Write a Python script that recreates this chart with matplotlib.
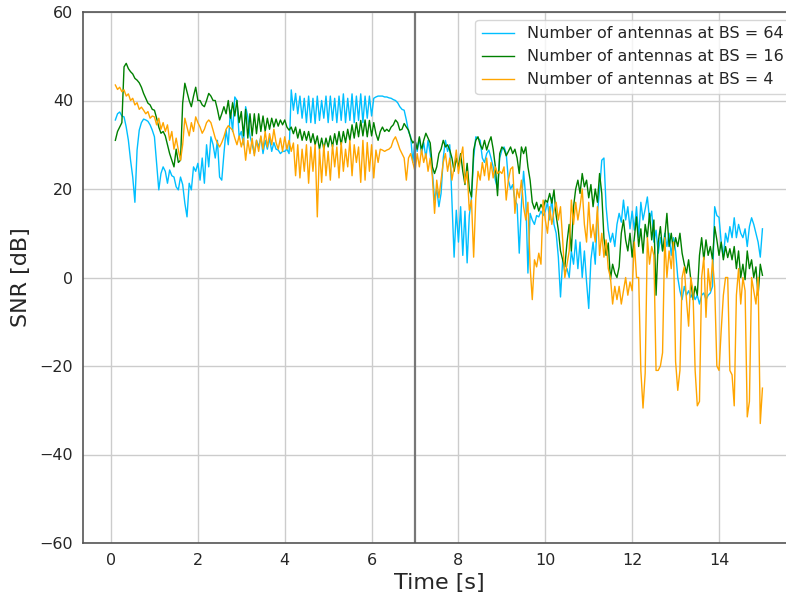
import numpy as np
import matplotlib
matplotlib.use("Agg")
import matplotlib.pyplot as plt

# time grid, 0.05 s steps
time = np.round(np.arange(0.1, 15.0001, 0.05), 2)

snr_64 = [
    35.6, 37, 37.4, 36.5, 36.3, 34, 31, 26.5, 22.7, 17, 28.8, 33.3, 35, 35.8, 35.6, 35.3, 34.5, 33.3,
    31.8, 25.8, 19.8, 23.5, 25, 24, 21.3, 24.3, 23, 22.7, 20.5, 19.8, 22.7, 21, 16.8, 13.7, 21.3, 19.8, 25, 24,
    25.8, 22, 27, 21.3, 30, 25, 31.8, 30, 27, 31, 22.7, 22, 28, 33.3, 30, 37.8, 33, 40.8, 40, 31.8,
    33, 30, 38.6, 36.3, 32, 30, 28, 31, 29.5, 31.8, 28, 31, 29, 31.5, 28.5, 30.5, 29, 28.8, 28, 28.5,
    28.5, 29, 28, 42.4, 37.8, 41.6, 37, 41, 36, 40.5, 35, 41, 35, 40.5, 34.8, 41, 35.5, 40, 36, 41,
    35, 41, 35.5, 40.5, 35, 41, 35.5, 41.5, 35, 40.5, 35.5, 41.5, 35, 41, 35.5, 41.5, 35, 41, 36, 41,
    36.5, 40.5, 40.8, 41, 41, 41, 40.8, 40.8, 40.6, 40.5, 40.2, 40, 39.5, 38.6, 38, 37.8, 35.6, 33, 31.8, 26,
    31, 28.5, 31.5, 28, 30.5, 27, 31, 28, 24, 17.5, 20, 16, 19, 27, 31, 28.5, 30, 17.5, 4.6, 15.2,
    8, 16, 5, 15, 3.3, 14, 18, 27, 31.8, 31.5, 31, 27, 26, 28, 28.8, 27, 25, 22, 20, 27,
    28.8, 29.5, 28, 22, 20, 21, 17.5, 16.5, 5.5, 16.5, 24, 18, 1, 14.5, 13, 12, 14, 13.7, 15, 14,
    15, 17, 13, 18, 12, 10, 4.6, -4.4, 4, 1, 2, 0, 6, 3, 8.5, 2, 8, 0, 6, -1,
    -7, 4, 8, 3, 14.5, 19.8, 26.5, 27, 16, 10.7, 8, 10, 7, 12, 14.5, 12.5, 17.5, 13, 16, 11,
    15, 10.7, 16, 9, 17, 13, 15.5, 18.2, 13, 15, 8, 10.7, 5.5, 9, 6, 10, 7, 10, 5, 9,
    6, 0, -3, -5, -2, -4, -3, -4.5, -3.5, -5, -4, -6, -4, -3.5, -5, -4, -3.5, -2, 16, 14,
    13.6, 8, 4.6, 10, 8, 11.5, 9, 13.5, 9, 12, 10, 9, 11, 7, 11.5, 13.5, 12, 10, 8, 4.6,
    11,
]

snr_16 = [
    31, 33, 34, 35, 47.6, 48.4, 47.2, 46.5, 46, 45, 44.6, 44, 43, 41.6, 40.5, 39.4, 39, 38,
    37.8, 36, 34, 32.6, 33, 32, 30, 28, 26.5, 25, 29, 26, 26.5, 39.4, 43.9, 42, 40, 38.6, 41, 43,
    40, 40, 39, 38.6, 40, 41.6, 41, 40, 40, 38, 35.6, 37, 38.6, 37, 40, 36, 39.5, 36.5, 40, 35,
    37.5, 32, 38, 31.5, 37, 32, 37, 32.5, 37, 33, 36.5, 33, 36, 33.5, 36, 34, 35.8, 34.2, 35.6, 34.5,
    35.6, 34, 33.3, 34, 32.5, 34, 31.5, 33.5, 31, 33, 31, 33, 30.5, 32.5, 30, 32, 29, 31.5, 29, 31.5,
    29.5, 32, 29.5, 32.5, 30, 33, 30, 33, 30.5, 33.5, 31, 34.5, 31.5, 35, 31.8, 35.5, 32, 35.6, 31.8, 35.5,
    32, 35, 32.5, 31, 33, 34, 33, 33.5, 33, 34, 34.5, 35.6, 35, 33.3, 33.5, 34.8, 34, 33.3, 31.5, 30.4,
    31, 29, 31.8, 28.8, 31, 32.6, 31.5, 30.4, 25, 23.5, 25, 28, 29, 31, 29.5, 30, 28.8, 27, 24, 27,
    25, 28, 24, 21, 25.8, 20, 18.2, 28.8, 31, 31.8, 30, 29, 31, 28.8, 30.5, 31.8, 29, 25, 18.5, 28,
    29.5, 29, 27.5, 28.5, 29.5, 28, 29, 27, 23.5, 29.5, 28, 29.5, 25, 22, 17, 15.5, 17, 15, 16.5, 15.5,
    17.5, 17, 19, 16.8, 19.8, 14, 10.7, 6, 4, 2.4, 8, 12, 6, 16, 20, 22, 19, 23.5, 20.5, 22,
    18, 21, 16, 20, 17, 23.5, 19, 9, 5, 7.8, -0.5, 3, 1, 0, 2.4, 10, 13, 8.5, 6, 10,
    4.6, 9, 13.7, 7, 11, 5.5, 12, 9, 14.5, 8.5, 13, -4, 8, 11.5, 6, 9, 14.5, 7, 10, 6,
    9, 7, 10, 5.5, 3, 1, 4, -0.5, -5, -2, -4, 5, 9, 4, 8.5, 5, 7, 4, 11.5, 8.5,
    5, 8, 4, 7, 4.5, 6.5, 4, 7, 2, 6, 0, 3, -0.5, 6, 2, 4, 0, 2.4, -4, 3,
    0.5,
]

snr_4 = [
    43.5, 42.5, 43, 42, 42.4, 41, 41.5, 40, 40.5, 39, 39.5, 38, 38.5, 37.8, 37, 37.5, 36, 36.5,
    36.3, 34.5, 36, 33.5, 35, 33, 34.5, 31, 33, 29, 31.5, 28.8, 26.5, 30, 36, 34, 32, 35, 33, 36.3,
    35, 34, 32.6, 33.5, 35, 35.6, 35, 33.3, 31.5, 30.4, 29.5, 30.5, 31.8, 33.5, 34.3, 33.8, 33.3, 31.5, 30, 32,
    29.5, 31.5, 26.5, 31, 28, 31.5, 27.5, 31, 28.5, 32, 29, 33, 29.5, 32.5, 30, 33.5, 30.5, 29, 31.5, 28.5,
    31.8, 29, 31, 28.5, 30.4, 23, 30, 22.5, 29, 24, 30, 21.3, 29.5, 24, 30, 13.7, 29, 21.5, 30, 23,
    28.5, 22, 30, 25, 29.5, 22.5, 30.5, 24, 29, 25, 31, 23, 30, 26, 29.5, 21.5, 31, 22, 30.5, 24,
    30, 22.5, 28.8, 26, 29, 28.8, 28.5, 28.8, 29, 29.5, 31, 31.8, 30.5, 29, 28, 27, 22, 27, 28, 26,
    24, 28, 25, 29, 26, 28, 24, 27, 22.7, 14.5, 22, 18, 22, 26, 28, 24, 27, 22, 25, 28.8,
    23.5, 27, 29.5, 21.3, 24, 15.2, 17.5, 4.6, 18, 24, 22, 26, 23, 27, 22, 26, 22.5, 25, 23.5, 24,
    23.5, 25, 17.5, 22, 24.5, 25, 14.5, 20, 18, 22, 16, 13, 17, 2.4, -5, 4, 2.4, 5.5, 3, 17.5,
    13, 10, 16, 12, 15, 17, 13, 16, 8.5, 0, 3, 6, 17.5, 12, 17, 13, 16, 20, 12, 8,
    17, 9, 12, 8, 16, 5, 10, 4.6, 8.5, 2, 0, -6, -2, -5, -2, -6, -3, 0, -4, -1,
    -3, 8, 0, 0, -21, -29.5, -21.6, 9, 3, 7, 5, -21, -21, -20, -17, 9, 0, 6, 2, 8,
    -19, -25.5, -21, 0, 2.4, -5, -11, 0, -3, -21, -29, -28, 0, 4.6, -9, 2, -3, 4, -2, -20,
    -21, -12, -4, 0, 0, -21, -22, -29, -4, 2, -6, 0, -3, -31.5, -28, 0, -3, -6, 0, -33,
    -25,
]

labels = ["Number of antennas at BS = 64",
          "Number of antennas at BS = 16",
          "Number of antennas at BS = 4"]
colors = ["deepskyblue", "green", "orange"]

plt.rcParams["font.family"] = "DejaVu Sans"

fig = plt.figure(figsize=(7.86, 6.0), dpi=100)
# axes run a bit past the right edge of the figure, as in the original
ax = fig.add_axes([0.1056, 0.095, 0.9056, 0.885])

for y, lab, c in zip([snr_64, snr_16, snr_4], labels, colors):
    ax.plot(time, y, color=c, linewidth=1.0, label=lab)

ax.axvline(7, color="#777777", linewidth=1.6)

ax.set_xlim(-0.645, 15.745)
ax.set_ylim(-60, 60)
ax.set_xticks(range(0, 16, 2))
ax.set_yticks(range(-60, 61, 20))
ax.grid(True, color="#cccccc", linewidth=1.0)
ax.set_axisbelow(True)
ax.tick_params(length=0, labelsize=11.5, colors="#262626", pad=7)
for s in ax.spines.values():
    s.set_color("#555555")
    s.set_linewidth(1.2)
ax.spines["right"].set_visible(False)

ax.set_xlabel("Time [s]", fontsize=16, color="#262626", labelpad=4)
ax.set_ylabel("SNR [dB]", fontsize=16, color="#262626", labelpad=6)

leg = ax.legend(loc="upper right", bbox_to_anchor=(1.004, 1.0), fontsize=11.5,
                frameon=True, fancybox=True, framealpha=0.8, borderpad=0.4,
                handlelength=2.0, labelspacing=0.5)
leg.get_frame().set_edgecolor("#cccccc")
for t in leg.get_texts():
    t.set_color("#262626")

fig.savefig("out.png", dpi=100)
